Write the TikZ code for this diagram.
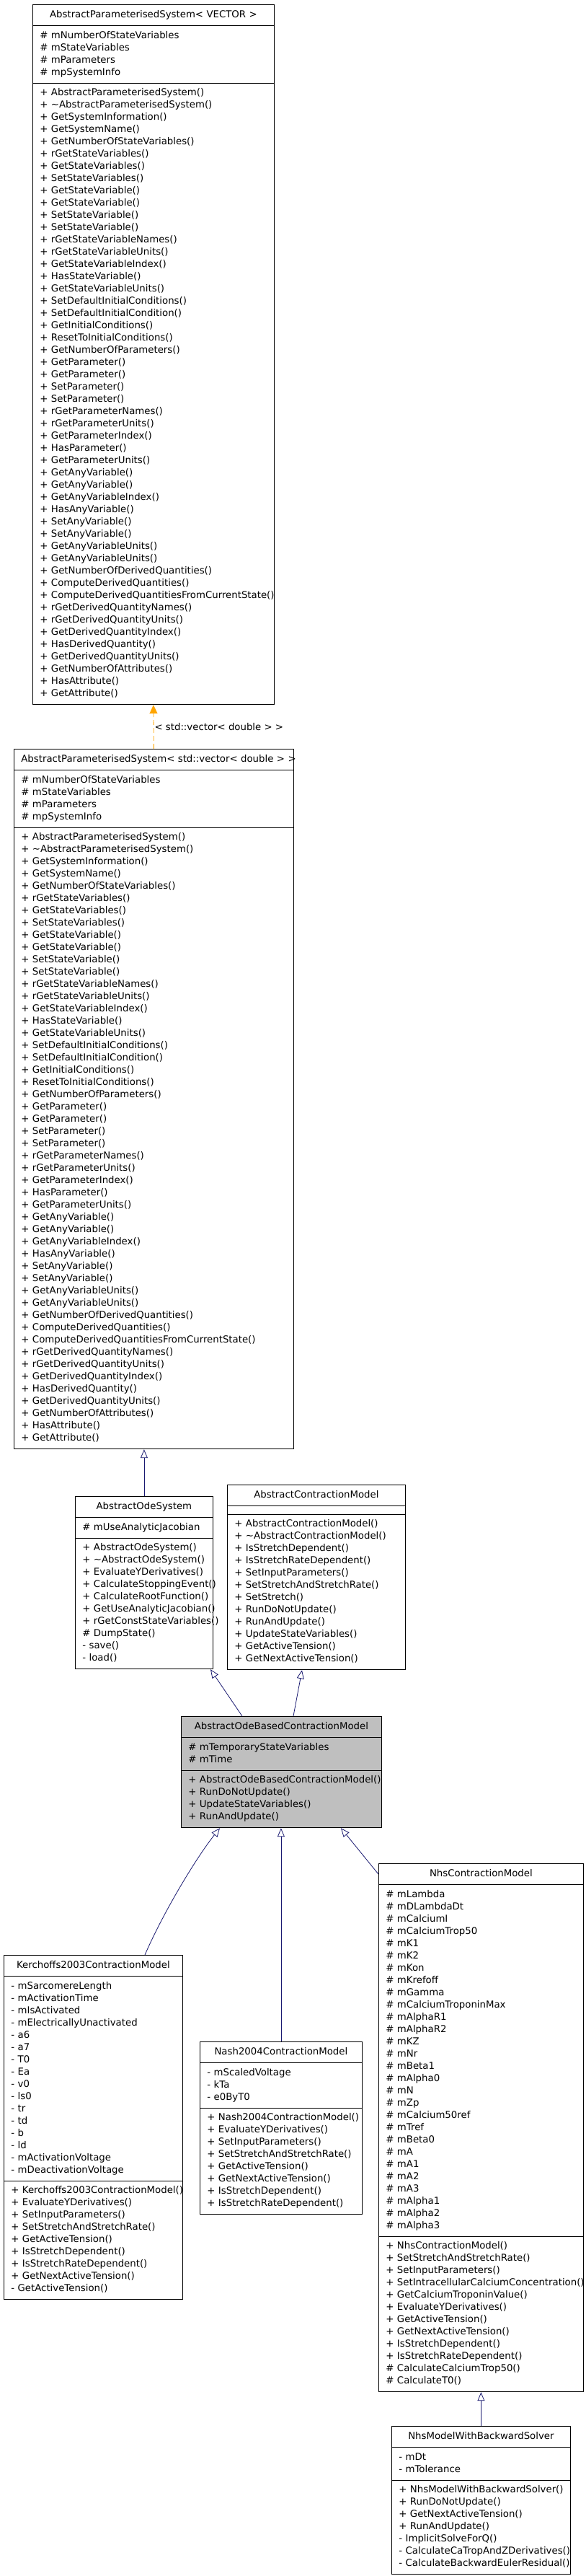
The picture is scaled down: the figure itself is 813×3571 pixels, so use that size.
\documentclass[tikz,border=0pt]{standalone}
\usepackage{fontspec}
\setmainfont{DejaVu Sans}
\usepackage{xcolor}
\usepackage{tikz}
\usetikzlibrary{shapes.multipart, arrows.meta, calc}
\definecolor{edgeblue}{RGB}{25, 25, 112}
\definecolor{tmplorange}{RGB}{255, 165, 0}
\definecolor{basegray}{RGB}{191, 191, 191}
\newcommand{\memberlist}[1]{\begin{tabular}[t]{@{}l@{}}#1\end{tabular}}

\tikzset{
    classbox/.style={rectangle split, rectangle split parts=3, draw=black, line width=0.8pt, inner xsep=10pt, inner ysep=5.5pt, align=left, anchor=north west, every text node part/.style={align=center}},
    inherit/.style={draw=edgeblue, line width=0.8pt, -{Triangle[open, length=12pt, width=10pt]}}
}

\begin{document}
\begin{tikzpicture}[x=1pt, y=-1pt, font=\fontsize{13.3}{17}\selectfont]
    \fill[white] (0,0) rectangle (813,3571);
    \useasboundingbox (0,0) rectangle (813,3571);

    \node[classbox, text width=315pt] (aps) at (45,6) {\memberlist{AbstractParameterisedSystem< VECTOR >}
        \nodepart{two}\memberlist{\# mNumberOfStateVariables\\\# mStateVariables\\\# mParameters\\\# mpSystemInfo}
        \nodepart{three}\memberlist{+ AbstractParameterisedSystem()\\+ \textasciitilde AbstractParameterisedSystem()\\+ GetSystemInformation()\\+ GetSystemName()\\+ GetNumberOfStateVariables()\\+ rGetStateVariables()\\+ GetStateVariables()\\+ SetStateVariables()\\+ GetStateVariable()\\+ GetStateVariable()\\+ SetStateVariable()\\+ SetStateVariable()\\+ rGetStateVariableNames()\\+ rGetStateVariableUnits()\\+ GetStateVariableIndex()\\+ HasStateVariable()\\+ GetStateVariableUnits()\\+ SetDefaultInitialConditions()\\+ SetDefaultInitialCondition()\\+ GetInitialConditions()\\+ ResetToInitialConditions()\\+ GetNumberOfParameters()\\+ GetParameter()\\+ GetParameter()\\+ SetParameter()\\+ SetParameter()\\+ rGetParameterNames()\\+ rGetParameterUnits()\\+ GetParameterIndex()\\+ HasParameter()\\+ GetParameterUnits()\\+ GetAnyVariable()\\+ GetAnyVariable()\\+ GetAnyVariableIndex()\\+ HasAnyVariable()\\+ SetAnyVariable()\\+ SetAnyVariable()\\+ GetAnyVariableUnits()\\+ GetAnyVariableUnits()\\+ GetNumberOfDerivedQuantities()\\+ ComputeDerivedQuantities()\\+ ComputeDerivedQuantitiesFromCurrentState()\\+ rGetDerivedQuantityNames()\\+ rGetDerivedQuantityUnits()\\+ GetDerivedQuantityIndex()\\+ HasDerivedQuantity()\\+ GetDerivedQuantityUnits()\\+ GetNumberOfAttributes()\\+ HasAttribute()\\+ GetAttribute()}};

    \node[classbox, text width=368pt] (apsdouble) at (19,1038) {\memberlist{AbstractParameterisedSystem< std::vector< double > >}
        \nodepart{two}\memberlist{\# mNumberOfStateVariables\\\# mStateVariables\\\# mParameters\\\# mpSystemInfo}
        \nodepart{three}\memberlist{+ AbstractParameterisedSystem()\\+ \textasciitilde AbstractParameterisedSystem()\\+ GetSystemInformation()\\+ GetSystemName()\\+ GetNumberOfStateVariables()\\+ rGetStateVariables()\\+ GetStateVariables()\\+ SetStateVariables()\\+ GetStateVariable()\\+ GetStateVariable()\\+ SetStateVariable()\\+ SetStateVariable()\\+ rGetStateVariableNames()\\+ rGetStateVariableUnits()\\+ GetStateVariableIndex()\\+ HasStateVariable()\\+ GetStateVariableUnits()\\+ SetDefaultInitialConditions()\\+ SetDefaultInitialCondition()\\+ GetInitialConditions()\\+ ResetToInitialConditions()\\+ GetNumberOfParameters()\\+ GetParameter()\\+ GetParameter()\\+ SetParameter()\\+ SetParameter()\\+ rGetParameterNames()\\+ rGetParameterUnits()\\+ GetParameterIndex()\\+ HasParameter()\\+ GetParameterUnits()\\+ GetAnyVariable()\\+ GetAnyVariable()\\+ GetAnyVariableIndex()\\+ HasAnyVariable()\\+ SetAnyVariable()\\+ SetAnyVariable()\\+ GetAnyVariableUnits()\\+ GetAnyVariableUnits()\\+ GetNumberOfDerivedQuantities()\\+ ComputeDerivedQuantities()\\+ ComputeDerivedQuantitiesFromCurrentState()\\+ rGetDerivedQuantityNames()\\+ rGetDerivedQuantityUnits()\\+ GetDerivedQuantityIndex()\\+ HasDerivedQuantity()\\+ GetDerivedQuantityUnits()\\+ GetNumberOfAttributes()\\+ HasAttribute()\\+ GetAttribute()}};

    \node[classbox, text width=171pt] (odesys) at (104,2074) {\memberlist{AbstractOdeSystem}
        \nodepart{two}\memberlist{\# mUseAnalyticJacobian}
        \nodepart{three}\memberlist{+ AbstractOdeSystem()\\+ \textasciitilde AbstractOdeSystem()\\+ EvaluateYDerivatives()\\+ CalculateStoppingEvent()\\+ CalculateRootFunction()\\+ GetUseAnalyticJacobian()\\+ rGetConstStateVariables()\\\# DumpState()\\- save()\\- load()}};

    \node[classbox, text width=227pt] (contraction) at (315,2058) {\memberlist{AbstractContractionModel}
        \nodepart{two}\memberlist{}
        \nodepart{three}\memberlist{+ AbstractContractionModel()\\+ \textasciitilde AbstractContractionModel()\\+ IsStretchDependent()\\+ IsStretchRateDependent()\\+ SetInputParameters()\\+ SetStretchAndStretchRate()\\+ SetStretch()\\+ RunDoNotUpdate()\\+ RunAndUpdate()\\+ UpdateStateVariables()\\+ GetActiveTension()\\+ GetNextActiveTension()}};

    \node[classbox, fill=basegray, text width=258pt] (odebased) at (251,2379) {\memberlist{AbstractOdeBasedContractionModel}
        \nodepart{two}\memberlist{\# mTemporaryStateVariables\\\# mTime}
        \nodepart{three}\memberlist{+ AbstractOdeBasedContractionModel()\\+ RunDoNotUpdate()\\+ UpdateStateVariables()\\+ RunAndUpdate()}};

    \node[classbox, text width=228pt] (kerchoffs) at (5,2710) {\memberlist{Kerchoffs2003ContractionModel}
        \nodepart{two}\memberlist{- mSarcomereLength\\- mActivationTime\\- mIsActivated\\- mElectricallyUnactivated\\- a6\\- a7\\- T0\\- Ea\\- v0\\- ls0\\- tr\\- td\\- b\\- ld\\- mActivationVoltage\\- mDeactivationVoltage}
        \nodepart{three}\memberlist{+ Kerchoffs2003ContractionModel()\\+ EvaluateYDerivatives()\\+ SetInputParameters()\\+ SetStretchAndStretchRate()\\+ GetActiveTension()\\+ IsStretchDependent()\\+ IsStretchRateDependent()\\+ GetNextActiveTension()\\- GetActiveTension()}};

    \node[classbox, text width=205pt] (nash) at (277,2830) {\memberlist{Nash2004ContractionModel}
        \nodepart{two}\memberlist{- mScaledVoltage\\- kTa\\- e0ByT0}
        \nodepart{three}\memberlist{+ Nash2004ContractionModel()\\+ EvaluateYDerivatives()\\+ SetInputParameters()\\+ SetStretchAndStretchRate()\\+ GetActiveTension()\\+ GetNextActiveTension()\\+ IsStretchDependent()\\+ IsStretchRateDependent()}};

    \node[classbox, text width=264pt] (nhs) at (525,2583) {\memberlist{NhsContractionModel}
        \nodepart{two}\memberlist{\# mLambda\\\# mDLambdaDt\\\# mCalciumI\\\# mCalciumTrop50\\\# mK1\\\# mK2\\\# mKon\\\# mKrefoff\\\# mGamma\\\# mCalciumTroponinMax\\\# mAlphaR1\\\# mAlphaR2\\\# mKZ\\\# mNr\\\# mBeta1\\\# mAlpha0\\\# mN\\\# mZp\\\# mCalcium50ref\\\# mTref\\\# mBeta0\\\# mA\\\# mA1\\\# mA2\\\# mA3\\\# mAlpha1\\\# mAlpha2\\\# mAlpha3}
        \nodepart{three}\memberlist{+ NhsContractionModel()\\+ SetStretchAndStretchRate()\\+ SetInputParameters()\\+ SetIntracellularCalciumConcentration()\\+ GetCalciumTroponinValue()\\+ EvaluateYDerivatives()\\+ GetActiveTension()\\+ GetNextActiveTension()\\+ IsStretchDependent()\\+ IsStretchRateDependent()\\\# CalculateCalciumTrop50()\\\# CalculateT0()}};

    \node[classbox, text width=228pt] (nhsbackward) at (543,3363) {\memberlist{NhsModelWithBackwardSolver}
        \nodepart{two}\memberlist{- mDt\\- mTolerance}
        \nodepart{three}\memberlist{+ NhsModelWithBackwardSolver()\\+ RunDoNotUpdate()\\+ GetNextActiveTension()\\+ RunAndUpdate()\\- ImplicitSolveForQ()\\- CalculateCaTropAndZDerivatives()\\- CalculateBackwardEulerResidual()}};

    \draw[tmplorange, line width=0.8pt, dash pattern=on 7pt off 4pt, -{Triangle[length=12pt, width=11pt]}] (apsdouble.north) -- (aps.south) node[midway, right, inner sep=1pt, text=black] (tmpllabel) {< std::vector< double > >};

    \draw[inherit] (odesys.north) -- (odesys.north |- apsdouble.south);
    \draw[inherit] ([xshift=85pt]odebased.north west) -- ([xshift=188pt]odesys.south west);
    \draw[inherit] ([xshift=156pt]odebased.north west) -- ([xshift=104pt]contraction.south west);
    \draw[inherit] ([xshift=196pt]kerchoffs.north west) .. controls +(26,-60) and +(-32,40) .. ([xshift=54pt]odebased.south west);
    \draw[inherit] (nash.north) -- (nash.north |- odebased.south);
    \draw[inherit] ([yshift=-15pt]nhs.north west) -- ([xshift=222pt]odebased.south west);
    \draw[inherit] (nhsbackward.north) -- (nhsbackward.north |- nhs.south);
\end{tikzpicture}
\end{document}
